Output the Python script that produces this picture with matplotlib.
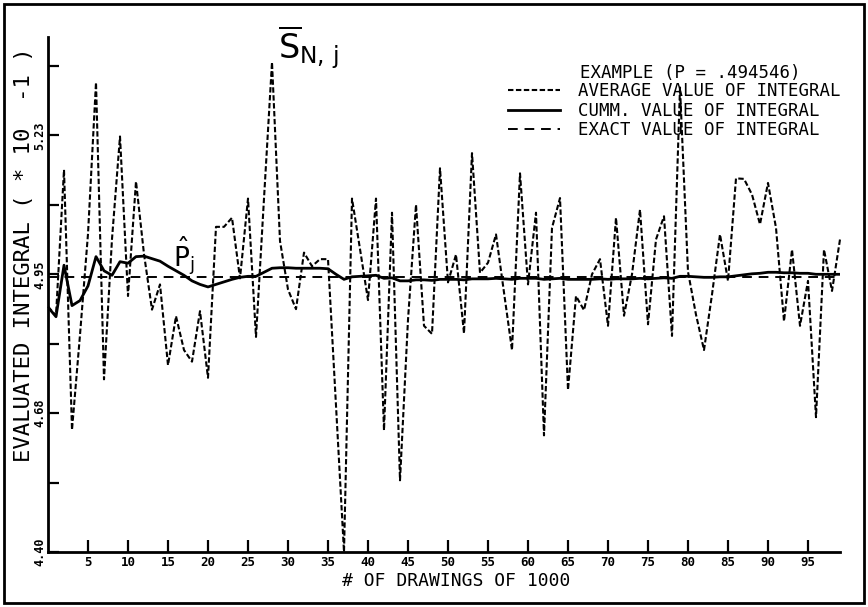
import numpy as np
import matplotlib
matplotlib.use("Agg")
import matplotlib.pyplot as plt

# average value of integral for each group of 1000 drawings (x 10^-1)
avg_value = [4.886, 4.868, 5.157, 4.642, 4.830, 5.030, 5.330, 4.742, 5.020, 5.223,
             4.907, 5.134, 4.990, 4.880, 4.930, 4.770, 4.867, 4.800, 4.777, 4.877,
             4.745, 5.044, 5.044, 5.062, 4.942, 5.100, 4.826, 5.100, 5.370, 5.016,
             4.920, 4.881, 4.993, 4.966, 4.980, 4.980, 4.690, 4.400, 5.100, 5.000,
             4.899, 5.100, 4.641, 5.072, 4.542, 4.860, 5.088, 4.848, 4.832, 5.160,
             4.934, 4.989, 4.833, 5.190, 4.953, 4.973, 5.029, 4.914, 4.800, 5.150,
             4.930, 5.072, 4.631, 5.042, 5.101, 4.721, 4.907, 4.879, 4.950, 4.980,
             4.848, 5.062, 4.868, 4.950, 5.078, 4.851, 5.019, 5.065, 4.828, 5.320,
             4.955, 4.870, 4.800, 4.910, 5.029, 4.937, 5.140, 5.139, 5.108, 5.049,
             5.131, 5.042, 4.857, 4.999, 4.848, 4.937, 4.667, 4.999, 4.917, 5.019]

# cumulative value of integral
cum_value = [4.885, 4.866, 4.968, 4.888, 4.898, 4.927, 4.985, 4.957, 4.948, 4.975,
             4.972, 4.985, 4.986, 4.981, 4.976, 4.966, 4.957, 4.948, 4.937, 4.930,
             4.925, 4.930, 4.935, 4.940, 4.944, 4.946, 4.946, 4.954, 4.962, 4.963,
             4.963, 4.962, 4.962, 4.962, 4.962, 4.961, 4.950, 4.940, 4.945, 4.946,
             4.947, 4.948, 4.942, 4.943, 4.937, 4.937, 4.939, 4.939, 4.938, 4.940,
             4.940, 4.940, 4.939, 4.941, 4.941, 4.941, 4.942, 4.941, 4.940, 4.942,
             4.942, 4.942, 4.940, 4.941, 4.942, 4.940, 4.940, 4.940, 4.940, 4.941,
             4.940, 4.941, 4.941, 4.941, 4.942, 4.941, 4.942, 4.943, 4.942, 4.946,
             4.946, 4.945, 4.944, 4.944, 4.945, 4.945, 4.947, 4.949, 4.951, 4.952,
             4.954, 4.954, 4.953, 4.953, 4.952, 4.952, 4.950, 4.950, 4.950, 4.950]

exact_value = 4.94546
drawings = np.arange(len(avg_value))

x_ticks = list(range(5, 100, 5))
y_major = [4.40, 4.675, 4.95, 5.225]
y_major_labels = ["4.40", "4.68", "4.95", "5.23"]
y_minor = [4.5375, 4.8125, 5.0875, 5.3625]

plt.rcParams['font.family'] = ['DejaVu Sans Mono']
plt.rcParams['mathtext.fontset'] = 'dejavusans'

W, H = 868, 607
left, right, top, bottom = 48, 840, 37, 552
fig = plt.figure(figsize=(W / 100, H / 100), dpi=100)
ax = fig.add_axes([left / W, 1 - bottom / H, (right - left) / W, (bottom - top) / H])

l_avg, = ax.plot(drawings, avg_value, color='black', lw=1.5, dashes=(2.6, 1.2), clip_on=False)
l_cum, = ax.plot(drawings, cum_value, color='black', lw=2.0)
l_exact = ax.axhline(exact_value, color='black', lw=1.4, dashes=(5, 3.5))

ax.set_xlim(0, 99)
ax.set_ylim(4.40, 5.42)

for side in ['top', 'right']:
    ax.spines[side].set_visible(False)
for side in ['left', 'bottom']:
    ax.spines[side].set_linewidth(2)

ax.set_xticks(x_ticks)
ax.set_xticklabels([str(t) for t in x_ticks], fontweight='bold', fontsize=9)
ax.tick_params(axis='x', direction='in', length=9, width=1.6, pad=3)

ax.set_yticks(y_major)
ax.set_yticklabels(y_major_labels, rotation=90, va='center', fontweight='bold', fontsize=8.5)
ax.set_yticks(y_minor, minor=True)
ax.tick_params(axis='y', which='both', direction='in', length=8, width=1.6, pad=1)

ax.set_xlabel('# OF DRAWINGS OF 1000', fontsize=13)
ax.xaxis.set_label_coords(0.516, -0.038)
ax.set_ylabel('EVALUATED INTEGRAL ( * 10  -1 )', fontsize=16)
ax.yaxis.set_label_coords(-0.018, 0.577)

# legend
ax.text(0.672, 0.931, 'EXAMPLE (P = .494546)', transform=ax.transAxes,
        fontsize=12.5, va='center', ha='left')
ax.legend([l_avg, l_cum, l_exact],
          ['AVERAGE VALUE OF INTEGRAL', 'CUMM. VALUE OF INTEGRAL', 'EXACT VALUE OF INTEGRAL'],
          loc='upper left', bbox_to_anchor=(0.581, 0.912), frameon=False,
          prop={'family': 'DejaVu Sans Mono', 'size': 12.5},
          handlelength=3.0, handletextpad=1.0, labelspacing=0.08,
          borderpad=0, borderaxespad=0)

# curve labels
ax.text(28.8, 5.375, r'$\overline{\mathsf{S}}_{\mathsf{N,\,j}}$', fontsize=24, ha='left', va='baseline')
ax.text(15.6, 4.966, r'$\hat{\mathsf{P}}_{\mathsf{j}}$', fontsize=19, ha='left', va='baseline')

# frame around the whole picture
fig.add_artist(plt.Rectangle((4 / W, 4 / H), 860 / W, 599 / H, fill=False,
                             lw=2, color='black', transform=fig.transFigure))

fig.savefig('out.png', dpi=100)
